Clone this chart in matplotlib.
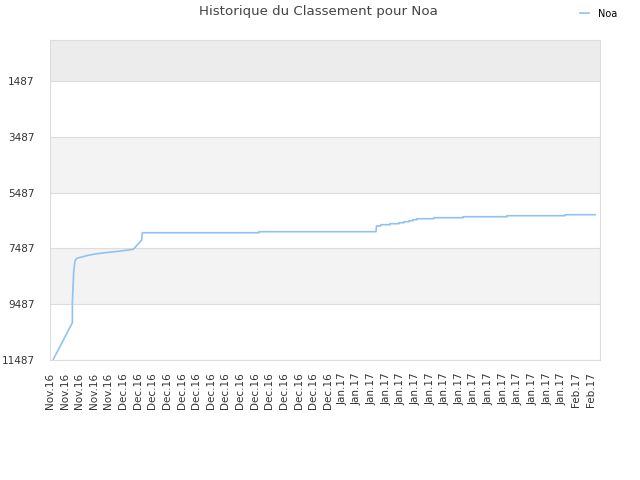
import matplotlib
matplotlib.use("Agg")
import matplotlib.pyplot as plt

# tick labels (one per tick position)
tick_labels = (["Nov.16"] * 5 + ["Dec.16"] * 15 + ["Jan.17"] * 16 + ["Feb.17"] * 2)

# ranking history: x in tick-index units, value = rank
pos = [0.23, 1.53, 1.53, 1.57, 1.62, 1.71, 1.83, 2.62, 3.08, 3.76, 4.67, 5.70,
       6.27, 6.31, 14.30, 14.30, 22.30, 22.33, 22.62, 22.64, 23.26, 23.26,
       23.87, 23.87, 24.21, 24.21, 24.56, 24.56, 24.83, 24.83, 25.10, 25.10,
       26.27, 26.27, 28.25, 28.25, 31.26, 31.26, 35.23, 35.23, 37.28]
rank = [11460, 10150, 9398, 8978, 8322, 7928, 7842, 7734, 7688, 7641, 7591, 7519,
        7186, 6925, 6925, 6888, 6888, 6684, 6684, 6637, 6637, 6602,
        6602, 6566, 6566, 6530, 6530, 6494, 6494, 6458, 6458, 6423,
        6423, 6387, 6387, 6351, 6351, 6315, 6315, 6279, 6279]

yticks = [1487, 3487, 5487, 7487, 9487, 11487]
series_name = "Noa"
title = "Historique du Classement pour Noa"

fig = plt.figure(figsize=(6.4, 4.8), dpi=100)
ax = fig.add_axes([50 / 640, 120 / 480, 550 / 640, 320 / 480])

ymin_top = 17
ax.set_ylim(11487, ymin_top)
ax.set_xlim(0, 37.62)

# alternating bands
ax.axhspan(ymin_top, 1487, color="#ececec", zorder=0, lw=0)
ax.axhspan(3487, 5487, color="#f3f3f3", zorder=0, lw=0)
ax.axhspan(7487, 9487, color="#f3f3f3", zorder=0, lw=0)
for v in yticks:
    ax.axhline(v, color="#dddddd", lw=0.8, zorder=1)

ax.plot(pos, rank, color="#90c2f2", lw=1.2, zorder=3, label=series_name)

ax.set_yticks(yticks)
ax.set_yticklabels([str(v) for v in yticks], fontsize=7.5, color="#333333")
ax.set_xticks(range(len(tick_labels)))
ax.set_xticklabels(tick_labels, rotation=90, fontsize=7.5, color="#333333")
ax.tick_params(axis="x", length=0, pad=9)
ax.tick_params(axis="y", length=0, pad=11)

for s in ax.spines.values():
    s.set_color("#dddddd")
    s.set_linewidth(0.8)

fig.text(318 / 640, 1 - 12 / 480, title, ha="center", va="center",
         fontsize=9.6, color="#444444")

fig.legend(loc="upper right", bbox_to_anchor=(0.978, 1.0), frameon=False,
           fontsize=7, handlelength=0.9, handletextpad=0.9)

fig.savefig("out.png", dpi=100)
